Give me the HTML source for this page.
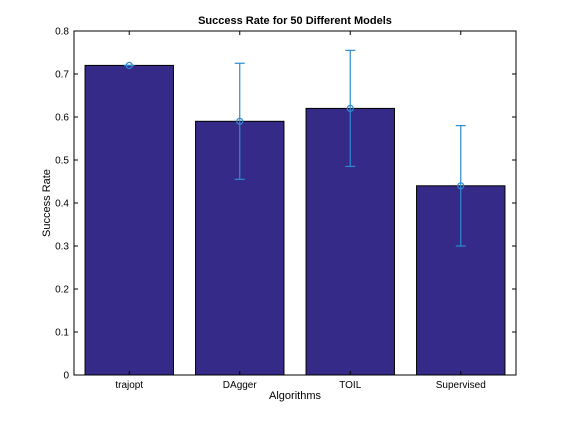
<!DOCTYPE html>
<html><head><meta charset="utf-8"><style>
body{margin:0;background:#fff}
svg{display:block;font-family:"Liberation Sans",sans-serif}
</style></head><body>
<svg id="chart" width="570" height="422">
<rect x="0" y="0" width="570" height="422" fill="#fff"/>
<g id="plot"></g>
</svg>
<script>
const categories = ["trajopt","DAgger","TOIL","Supervised"];
const values = [0.72,0.59,0.62,0.44];
const errors = [0.0,0.135,0.135,0.14];
const yTicks = [0,0.1,0.2,0.3,0.4,0.5,0.6,0.7,0.8];
const tickLabels = ["0","0.1","0.2","0.3","0.4","0.5","0.6","0.7","0.8"];

const L=74,R=516,T=31,B=375;
const ns="http://www.w3.org/2000/svg";
const g=document.getElementById('plot');
const xs=i=>L+(i+0.5)*(R-L)/categories.length;
const ys=v=>B-(v/0.8)*(B-T);
const bw=0.8*(R-L)/categories.length;
function mk(tag,attrs,parent){const e=document.createElementNS(ns,tag);for(const k in attrs)e.setAttribute(k,attrs[k]);(parent||g).appendChild(e);return e;}

const title=mk('text',{x:(L+R)/2,y:24,'text-anchor':'middle','font-size':11,'font-weight':'bold',fill:'#000'});
title.textContent='Success Rate for 50 Different Models';



values.forEach((v,i)=>{
  const r=mk('rect',{x:xs(i)-bw/2,y:ys(v),width:bw,height:B-ys(v),fill:'#352a87',stroke:'#000','stroke-width':1});
  
  
});
values.forEach((v,i)=>{
  const eg=mk('g',{stroke:'#2d8bd0','stroke-width':1.2,fill:'none'});
  
  
  const x=xs(i),y1=ys(v+errors[i]),y2=ys(v-errors[i]);
  mk('line',{x1:x,x2:x,y1:y1,y2:y2},eg);
  mk('line',{x1:x-5,x2:x+5,y1:y1,y2:y1},eg);
  mk('line',{x1:x-5,x2:x+5,y1:y2,y2:y2},eg);
  mk('circle',{cx:x,cy:ys(v),r:3},eg);
});

const ax=mk('rect',{x:L,y:T,width:R-L,height:B-T,fill:'none',stroke:'#000','stroke-width':1});



yTicks.forEach((t,i)=>{
  const y=ys(t);
  mk('line',{x1:L,x2:L+4,y1:y,y2:y,stroke:'#000'});
  mk('line',{x1:R,x2:R-4,y1:y,y2:y,stroke:'#000'});
  const tx=mk('text',{x:L-5,y:y+3.5,'text-anchor':'end','font-size':10,fill:'#000'});
  tx.textContent=tickLabels[i];
  
  
});
categories.forEach((c,i)=>{
  const x=xs(i);
  mk('line',{x1:x,x2:x,y1:B,y2:B-4,stroke:'#000'});
  mk('line',{x1:x,x2:x,y1:T,y2:T+4,stroke:'#000'});
  const tx=mk('text',{x:x,y:B+13,'text-anchor':'middle','font-size':10,fill:'#000'});
  tx.textContent=c;
  
  
});
const xt=mk('text',{x:(L+R)/2,y:B+24,'text-anchor':'middle','font-size':11,fill:'#000'});
xt.textContent='Algorithms';


const yt=mk('text',{x:0,y:0,'text-anchor':'middle','font-size':11,fill:'#000',transform:'translate(50,'+((T+B)/2)+') rotate(-90)'});
yt.textContent='Success Rate';


</script>
</body></html>
